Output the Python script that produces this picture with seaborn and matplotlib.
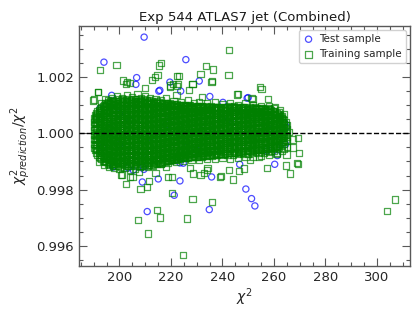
import numpy as np
import matplotlib.pyplot as plt
import matplotlib.ticker as mticker
import seaborn as sns

TITLE = "Exp 544 ATLAS7 jet (Combined)"

# ------------------------------------------------------------------
# Data
# ------------------------------------------------------------------

# dense core of the training sample: one chi2 column per entry, with the
# deviations of chi2_pred/chi2 from 1 in units of 1e-5
core_chi2 = list(range(190, 266))
core_dev = [
    [-52, -37, -21, -6, 10, 24, 39, 53],
    [-68, -54, -38, -25, -9, 5, 19, 35, 50, 63, 71],
    [-83, -69, -55, -40, -26, -11, 3, 17, 32, 46, 61, 74, 84],
    [-91, -76, -62, -47, -31, -18, -4, 11, 25, 40, 56, 69, 81, 92],
    [-97, -85, -70, -54, -41, -27, -12, 2, 16, 31, 45, 60, 73, 87, 99],
    [-102, -88, -74, -59, -45, -30, -16, -1, 13, 28, 42, 57, 71, 85, 97, 104],
    [-105, -93, -79, -64, -50, -35, -21, -6, 8, 23, 37, 52, 66, 80, 94, 107],
    [-108, -95, -81, -67, -52, -38, -23, -9, 6, 20, 35, 49, 64, 78, 92, 104, 111],
    [-110, -97, -83, -69, -56, -41, -27, -12, 2, 16, 31, 45, 60, 74, 88, 101, 114],
    [-106, -91, -77, -62, -48, -33, -19, -5, 10, 24, 39, 53, 68, 82, 96, 109],
    [-109, -96, -82, -67, -53, -39, -24, -10, 5, 19, 34, 48, 63, 77, 91, 104, 115],
    [-104, -89, -75, -60, -46, -31, -17, -2, 12, 27, 41, 56, 70, 85, 99, 112],
    [-110, -98, -84, -70, -55, -41, -26, -12, 3, 17, 32, 46, 61, 75, 89, 102, 113],
    [-107, -92, -78, -63, -49, -34, -20, -5, 9, 24, 38, 53, 67, 82, 96, 110],
    [-110, -99, -85, -71, -57, -42, -28, -13, 1, 16, 30, 45, 59, 74, 88, 101, 114],
    [-105, -90, -76, -61, -47, -32, -18, -3, 11, 26, 40, 55, 69, 84, 98, 111],
    [-109, -96, -81, -67, -53, -38, -24, -9, 5, 20, 34, 49, 63, 78, 92, 105, 115],
    [-103, -88, -74, -59, -45, -30, -16, -1, 13, 28, 42, 57, 71, 86, 100, 112],
    [-110, -97, -83, -68, -54, -40, -25, -11, 4, 18, 33, 47, 62, 76, 90, 103, 114],
    [-106, -92, -77, -63, -48, -34, -19, -5, 10, 24, 39, 53, 68, 82, 97, 110],
    [-108, -94, -80, -65, -51, -37, -22, -8, 7, 21, 36, 50, 65, 79, 93, 106, 115],
    [-104, -90, -75, -61, -46, -32, -17, -3, 12, 26, 41, 55, 70, 84, 98, 110],
    [-106, -93, -79, -64, -50, -36, -21, -7, 8, 22, 37, 51, 66, 80, 94, 107],
    [-101, -87, -72, -58, -43, -29, -14, 0, 15, 29, 44, 58, 73, 87, 100, 112],
    [-105, -91, -77, -62, -48, -33, -19, -4, 10, 25, 39, 54, 68, 83, 96, 108],
    [-99, -85, -71, -56, -42, -27, -13, 2, 16, 31, 45, 60, 74, 88, 101],
    [-100, -88, -74, -59, -45, -30, -16, -1, 13, 28, 42, 57, 71, 85, 97, 108],
    [-96, -82, -67, -53, -38, -24, -9, 5, 20, 34, 49, 63, 78, 92, 104],
    [-99, -86, -71, -57, -42, -28, -13, 1, 16, 30, 45, 59, 74, 88, 100, 107],
    [-93, -79, -64, -50, -35, -21, -6, 8, 23, 37, 52, 66, 81, 94, 103],
    [-94, -82, -68, -53, -39, -24, -10, 5, 19, 34, 48, 63, 77, 90, 101],
    [-90, -76, -61, -47, -32, -18, -3, 11, 26, 40, 55, 69, 83, 96, 104],
    [-93, -80, -65, -51, -36, -22, -7, 7, 22, 36, 51, 65, 79, 92],
    [-87, -73, -58, -44, -29, -15, 0, 14, 29, 43, 58, 72, 86, 98],
    [-88, -76, -62, -47, -33, -18, -4, 11, 25, 40, 54, 68, 82, 94, 100],
    [-84, -70, -55, -41, -26, -12, 3, 17, 32, 46, 61, 75, 88, 97],
    [-87, -74, -59, -45, -30, -16, -1, 13, 28, 42, 57, 71, 85, 96],
    [-82, -68, -53, -39, -24, -10, 5, 19, 34, 48, 63, 77, 90, 99],
    [-84, -71, -57, -42, -28, -13, 1, 16, 30, 45, 59, 73, 86, 95],
    [-79, -65, -50, -36, -21, -7, 8, 22, 37, 51, 66, 80, 92],
    [-83, -70, -55, -41, -26, -12, 3, 17, 32, 46, 61, 75, 88, 96],
    [-78, -64, -49, -35, -20, -6, 9, 23, 38, 52, 67, 81, 93],
    [-82, -68, -54, -39, -25, -10, 4, 19, 33, 48, 62, 76, 89, 96],
    [-77, -62, -48, -33, -19, -4, 10, 25, 39, 54, 68, 82, 94],
    [-80, -67, -52, -38, -23, -9, 6, 20, 35, 49, 64, 78, 90],
    [-75, -61, -46, -32, -17, -3, 12, 26, 41, 55, 70, 84, 95],
    [-79, -65, -51, -36, -22, -7, 7, 22, 36, 51, 65, 79, 91],
    [-74, -59, -45, -30, -16, -1, 13, 28, 42, 57, 71, 85, 93],
    [-78, -64, -49, -35, -20, -6, 9, 23, 38, 52, 67, 81, 92],
    [-73, -58, -44, -29, -15, 0, 14, 29, 43, 58, 72, 86],
    [-77, -63, -48, -34, -19, -5, 10, 24, 39, 53, 68, 82, 93],
    [-72, -57, -43, -28, -14, 1, 15, 30, 44, 59, 73, 87],
    [-76, -62, -47, -33, -18, -4, 11, 25, 40, 54, 69, 83, 92],
    [-71, -56, -42, -27, -13, 2, 16, 31, 45, 60, 74, 88],
    [-75, -61, -46, -32, -17, -3, 12, 26, 41, 55, 70, 84, 93],
    [-70, -55, -41, -26, -12, 3, 17, 32, 46, 61, 75, 89],
    [-74, -60, -45, -31, -16, -2, 13, 27, 42, 56, 71, 85, 92],
    [-69, -54, -40, -25, -11, 4, 18, 33, 47, 62, 76, 88],
    [-73, -59, -44, -30, -15, -1, 14, 28, 43, 57, 72, 86, 93],
    [-68, -53, -39, -24, -10, 5, 19, 34, 48, 63, 77, 89],
    [-72, -58, -43, -29, -14, 0, 15, 29, 44, 58, 73, 86],
    [-67, -52, -38, -23, -9, 6, 20, 35, 49, 64, 78, 90],
    [-71, -57, -42, -28, -13, 1, 16, 30, 45, 59, 74, 87],
    [-66, -51, -37, -22, -8, 7, 21, 36, 50, 65, 79, 89],
    [-70, -56, -41, -27, -12, 2, 17, 31, 46, 60, 75, 87],
    [-65, -50, -36, -21, -7, 8, 22, 37, 51, 66, 80, 90],
    [-69, -55, -40, -26, -11, 3, 18, 32, 47, 61, 76, 86],
    [-64, -49, -35, -20, -6, 9, 23, 38, 52, 67, 81],
    [-66, -53, -39, -24, -10, 4, 19, 33, 48, 62, 77, 85],
    [-61, -47, -32, -18, -3, 11, 26, 40, 55, 69, 82],
    [-64, -51, -37, -22, -8, 6, 21, 35, 50, 64, 78],
    [-57, -43, -28, -14, 1, 15, 30, 44, 59, 72],
    [-52, -38, -24, -9, 5, 20, 34, 49, 63, 74],
    [-46, -32, -17, -3, 12, 26, 41, 55, 62],
    [-38, -24, -10, 5, 19, 33, 46],
    [-28, -14, 1, 15, 29],
]

# second pass over the core, between the columns above
core2_chi2 = [c + 0.5 for c in range(190, 265)]
core2_dev = [
    [-60, -42, -24, -5, 14, 33, 50, 64],
    [-77, -58, -40, -21, -3, 16, 34, 53, 70, 80],
    [-88, -71, -52, -34, -15, 3, 22, 40, 59, 77, 90],
    [-97, -80, -61, -43, -24, -6, 13, 31, 50, 68, 86, 98],
    [-103, -86, -67, -49, -30, -12, 7, 25, 44, 62, 81, 97, 106],
    [-107, -91, -73, -54, -36, -17, 1, 20, 38, 57, 75, 94, 110],
    [-112, -95, -77, -58, -40, -21, -3, 16, 34, 53, 71, 90, 106, 115],
    [-114, -99, -81, -62, -44, -25, -7, 12, 30, 49, 67, 86, 104, 117],
    [-116, -103, -85, -66, -48, -29, -11, 8, 26, 45, 63, 82, 100, 116],
    [-115, -97, -79, -60, -42, -23, -5, 14, 32, 51, 69, 88, 106, 120],
    [-118, -101, -83, -64, -46, -27, -9, 10, 28, 47, 65, 84, 102, 119],
    [-113, -95, -77, -58, -40, -21, -3, 16, 34, 53, 71, 90, 108, 121],
    [-117, -99, -81, -62, -44, -25, -7, 12, 30, 49, 67, 86, 104, 118],
    [-114, -96, -78, -59, -41, -22, -4, 15, 33, 52, 70, 89, 107, 122],
    [-116, -100, -82, -63, -45, -26, -8, 11, 29, 48, 66, 85, 103, 119],
    [-112, -94, -76, -57, -39, -20, -2, 17, 35, 54, 72, 91, 109, 121],
    [-117, -98, -80, -61, -43, -24, -6, 13, 31, 50, 68, 87, 105, 120],
    [-114, -95, -77, -58, -40, -21, -3, 16, 34, 53, 71, 90, 108, 122],
    [-116, -99, -81, -62, -44, -25, -7, 12, 30, 49, 67, 86, 104, 118],
    [-113, -96, -78, -59, -41, -22, -4, 15, 33, 52, 70, 89, 107, 121],
    [-115, -100, -82, -63, -45, -26, -8, 11, 29, 48, 66, 85, 103, 117],
    [-111, -94, -76, -57, -39, -20, -2, 17, 35, 54, 72, 91, 108, 118],
    [-113, -97, -79, -60, -42, -23, -5, 14, 32, 51, 69, 88, 104, 116],
    [-108, -92, -74, -55, -37, -18, 0, 19, 37, 56, 74, 93, 109],
    [-110, -95, -77, -58, -40, -21, -3, 16, 34, 53, 71, 90, 106, 114],
    [-106, -89, -71, -52, -34, -15, 3, 22, 40, 59, 77, 95, 110],
    [-104, -92, -74, -55, -37, -18, 0, 19, 37, 56, 74, 92, 107],
    [-102, -86, -68, -49, -31, -12, 6, 25, 43, 62, 80, 97, 109],
    [-99, -89, -71, -52, -34, -15, 3, 22, 40, 59, 77, 94, 106],
    [-98, -83, -65, -46, -28, -9, 9, 28, 46, 65, 83, 99, 108],
    [-96, -86, -68, -49, -31, -12, 6, 25, 43, 62, 80, 96, 105],
    [-95, -80, -62, -43, -25, -6, 12, 31, 49, 68, 86, 101],
    [-92, -83, -65, -46, -28, -9, 9, 28, 46, 65, 83, 98, 104],
    [-91, -77, -59, -40, -22, -3, 15, 34, 52, 71, 89, 102],
    [-89, -80, -62, -43, -25, -6, 12, 31, 49, 68, 86, 99],
    [-88, -74, -56, -37, -19, 0, 18, 37, 55, 74, 91, 101],
    [-86, -77, -59, -40, -22, -3, 15, 34, 52, 71, 88, 98],
    [-85, -71, -53, -34, -16, 3, 21, 40, 58, 77, 93, 100],
    [-84, -74, -56, -37, -19, 0, 18, 37, 55, 74, 90, 98],
    [-83, -68, -50, -31, -13, 6, 24, 43, 61, 80, 95],
    [-82, -71, -53, -34, -16, 3, 21, 40, 58, 77, 92, 98],
    [-81, -65, -47, -28, -10, 9, 27, 46, 64, 83, 96],
    [-80, -68, -50, -31, -13, 6, 24, 43, 61, 80, 94],
    [-79, -62, -44, -25, -7, 12, 30, 49, 67, 85, 96],
    [-78, -65, -47, -28, -10, 9, 27, 46, 64, 82, 94],
    [-77, -59, -41, -22, -4, 15, 33, 52, 70, 87, 96],
    [-76, -62, -44, -25, -7, 12, 30, 49, 67, 84, 94],
    [-75, -56, -38, -19, -1, 18, 36, 55, 73, 89, 95],
    [-74, -59, -41, -22, -4, 15, 33, 52, 70, 86, 94],
    [-73, -53, -35, -16, 2, 21, 39, 58, 76, 91],
    [-72, -56, -38, -19, -1, 18, 36, 55, 73, 88, 95],
    [-71, -50, -32, -13, 5, 24, 42, 61, 78, 92],
    [-70, -53, -35, -16, 2, 21, 39, 58, 75, 89, 96],
    [-69, -47, -29, -10, 8, 27, 45, 64, 80, 93],
    [-68, -50, -32, -13, 5, 24, 42, 61, 77, 90, 96],
    [-67, -44, -26, -7, 11, 30, 48, 67, 82, 94],
    [-66, -47, -29, -10, 8, 27, 45, 64, 79, 91],
    [-65, -41, -23, -4, 14, 33, 51, 70, 84, 95],
    [-64, -44, -26, -7, 11, 30, 48, 67, 81, 92],
    [-63, -38, -20, -1, 17, 36, 54, 72, 86],
    [-62, -41, -23, -4, 14, 33, 51, 69, 83, 93],
    [-61, -35, -17, 2, 20, 39, 57, 74, 88],
    [-60, -38, -20, -1, 17, 36, 54, 71, 85, 92],
    [-59, -32, -14, 5, 23, 42, 60, 76, 89],
    [-58, -35, -17, 2, 20, 39, 57, 73, 86],
    [-57, -29, -11, 8, 26, 45, 63, 78, 90],
    [-56, -32, -14, 5, 23, 42, 60, 75, 87],
    [-54, -26, -8, 11, 29, 48, 66, 80, 88],
    [-52, -29, -11, 8, 26, 45, 63, 77, 86],
    [-50, -23, -5, 14, 32, 51, 68, 80],
    [-47, -26, -8, 11, 29, 48, 65, 77],
    [-43, -20, -2, 17, 35, 54, 68],
    [-38, -17, 1, 20, 38, 55, 64],
    [-32, -14, 4, 22, 40, 52],
    [-24, -6, 12, 30, 40],
]

# training points along the ragged rim of the core
edge_chi2 = [
    193.0, 195.5, 197.0, 199.0, 201.0, 203.0, 205.0, 207.0, 208.5, 210.0,
    212.0, 214.0, 216.0, 218.0, 221.0, 224.0, 226.5, 229.0, 231.0, 234.0,
    237.0, 240.0, 243.0, 246.0, 249.0, 252.0, 255.0, 258.0, 260.5, 262.5,
    264.0,
    192.0, 194.0, 196.0, 198.0, 200.0, 202.0, 204.0, 206.0, 208.0, 211.0,
    213.0, 216.0, 219.0, 222.0, 225.0, 228.0, 231.0, 234.0, 237.0, 240.0,
    243.0, 246.0, 249.0, 252.0, 255.0, 258.0, 261.0, 263.0, 265.0,
]
edge_ratio = [
    1.00108, 1.00118, 1.00125, 1.00131, 1.00124, 1.00135, 1.00128, 1.00138, 1.00126, 1.00133,
    1.00127, 1.00122, 1.00118, 1.00124, 1.00115, 1.00112, 1.00118, 1.00108, 1.00112, 1.00106,
    1.00110, 1.00104, 1.00108, 1.00102, 1.00106, 1.00100, 1.00098, 1.00096, 1.00092, 1.00084,
    1.00070,
    0.99900, 0.99888, 0.99882, 0.99876, 0.99872, 0.99878, 0.99870, 0.99875, 0.99880, 0.99882,
    0.99885, 0.99890, 0.99894, 0.99898, 0.99902, 0.99905, 0.99904, 0.99908, 0.99910, 0.99912,
    0.99908, 0.99914, 0.99916, 0.99918, 0.99920, 0.99924, 0.99928, 0.99938, 0.99952,
]

# scattered training points outside the core
train_out_chi2 = [
    192.5, 198.9, 216.1, 215.3, 242.5, 233.7, 236.4, 231.5, 242.4, 235.9,
    214.8, 223.0, 222.4, 201.5, 202.6, 204.0, 212.6, 213.7, 228.4, 227.1,
    255.2, 245.6, 251.7, 257.7, 191.8, 190.1, 194.3, 219.5, 222.3, 232.2,
    260.0, 262.6, 263.2, 265.9, 269.4, 267.3, 267.3, 264.0, 269.8, 264.9,
    264.7, 269.2, 269.0, 257.2, 266.2, 307.0, 303.8, 200.6, 202.5, 205.1,
    208.2, 210.8, 211.5, 219.0, 220.3, 220.3, 228.4, 235.9, 214.6, 215.7,
    207.2, 226.3, 211.1, 224.8, 228.7, 239.4, 244.0, 248.4, 232.9, 234.2,
    214.0, 216.3, 220.7, 222.8, 228.4, 235.8, 245.9, 251.3, 254.6, 227.4,
    231.5, 233.9, 239.0, 242.6, 246.5, 250.7, 254.3, 261.3, 189.8, 191.8,
    190.9, 197.0, 200.9, 204.1, 207.7, 218.1, 220.3, 202.8, 209.9, 219.6,
    222.2,
]
train_out_ratio = [
    1.00224, 1.00244, 1.00250, 1.00241, 1.00295, 1.00238, 1.00227, 1.00212, 1.00206, 1.00185,
    1.00206, 1.00203, 1.00203, 1.00188, 1.00175, 1.00180, 1.00190, 1.00200, 1.00174, 1.00153,
    1.00159, 1.00138, 1.00122, 1.00121, 1.00147, 1.00120, 1.00123, 1.00166, 1.00168, 1.00129,
    1.00088, 1.00058, 1.00037, 1.00005, 0.99983, 0.99978, 0.99950, 0.99946, 0.99930, 0.99925,
    0.99886, 0.99892, 0.99894, 0.99878, 0.99857, 0.99765, 0.99723, 0.99853, 0.99821, 0.99845,
    0.99802, 0.99809, 0.99831, 0.99845, 0.99845, 0.99788, 0.99766, 0.99757, 0.99727, 0.99701,
    0.99691, 0.99697, 0.99644, 0.99567, 0.99857, 0.99847, 0.99836, 0.99875, 0.99859, 0.99876,
    0.99860, 0.99890, 1.00176, 1.00174, 1.00176, 1.00182, 1.00141, 1.00127, 1.00164, 0.99878,
    0.99851, 0.99869, 0.99845, 0.99869, 0.99866, 0.99904, 0.99918, 0.99930, 1.00117, 1.00147,
    1.00058, 0.99892, 0.99854, 0.99845, 0.99863, 0.99880, 0.99904, 1.00182, 1.00162, 1.00170,
    1.00135,
]

# test sample (mostly hidden under the training core, visible at its edges)
test_chi2 = [
    209.6, 194.0, 225.8, 231.0, 206.7, 219.6, 249.6, 235.1, 240.2, 197.0,
    215.3, 223.8, 264.2, 264.9, 264.5, 261.0, 257.2, 261.3, 260.3, 251.3,
    252.6, 249.1, 197.5, 208.9, 215.1, 223.5, 221.3, 234.9, 210.8, 246.7,
    224.8, 223.5, 235.8, 257.2, 250.0, 192.4, 193.5, 205.4, 209.5, 206.4,
    215.7, 197.6, 203.4, 209.2, 196.0, 200.0, 204.0, 212.0, 218.0, 226.0,
    232.0, 238.0, 244.0, 252.0, 258.0, 200.0, 210.0, 220.0, 230.0, 240.0,
]
test_ratio = [
    1.00342, 1.00253, 1.00262, 1.00186, 1.00198, 1.00182, 1.00125, 1.00131, 1.00110, 1.00135,
    1.00150, 1.00150, 1.00037, 1.00022, 0.99961, 0.99951, 0.99946, 0.99921, 0.99890, 0.99768,
    0.99742, 0.99802, 0.99880, 0.99827, 0.99838, 0.99831, 0.99780, 0.99729, 0.99722, 0.99890,
    0.99894, 0.99895, 0.99845, 0.99937, 1.00127, 1.00088, 0.99951, 0.99869, 0.99872, 1.00174,
    1.00153, 0.99884, 0.99877, 0.99880, 1.00020, 0.99960, 1.00045, 0.99985, 1.00030, 0.99970,
    1.00010, 0.99955, 1.00040, 0.99990, 1.00015, 1.00070, 0.99930, 1.00060, 0.99940, 1.00050,
]

# ------------------------------------------------------------------
# Build the training sample
# ------------------------------------------------------------------
def expand(cols, devs):
    xs = [c for c, d in zip(cols, devs) for _ in d]
    ys = [1 + v * 1e-5 for d in devs for v in d]
    return xs, ys


c1x, c1y = expand(core_chi2, core_dev)
c2x, c2y = expand(core2_chi2, core2_dev)
train_chi2 = c1x + c2x + edge_chi2 + train_out_chi2
train_ratio = c1y + c2y + edge_ratio + train_out_ratio

sns.set_style("ticks")
plt.rcParams["font.family"] = ["DejaVu Sans"]
plt.rcParams["mathtext.fontset"] = "dejavusans"

fig = plt.figure(figsize=(4.2, 3.15), dpi=100)
ax = fig.add_axes([0.188, 0.156, 0.788, 0.761])

sns.scatterplot(
    x=test_chi2, y=test_ratio, ax=ax, marker="o", s=20,
    facecolor="none", edgecolor="#0000ff", linewidth=0.9, alpha=0.7,
    label="Test sample",
)
sns.scatterplot(
    x=train_chi2, y=train_ratio, ax=ax, marker="s", s=20,
    facecolor="none", edgecolor="#008000", linewidth=0.9, alpha=0.7,
    label="Training sample",
)
ax.axhline(1.0, color="black", linestyle="--", linewidth=1.0, zorder=5)

ax.set_xlim(184.3, 312.8)
ax.set_ylim(0.99529, 1.00381)
ax.xaxis.set_major_locator(mticker.MultipleLocator(20))
ax.xaxis.set_minor_locator(mticker.MultipleLocator(5))
ax.yaxis.set_major_locator(mticker.MultipleLocator(0.002))
ax.yaxis.set_minor_locator(mticker.MultipleLocator(0.0005))
ax.yaxis.set_major_formatter(mticker.FormatStrFormatter("%.3f"))

ax.tick_params(which="both", direction="in", top=True, right=True,
               color="0.35", labelcolor="0.15", labelsize=9.5, width=0.8)
ax.tick_params(which="major", length=6)
ax.tick_params(which="minor", length=3.2)
for sp in ax.spines.values():
    sp.set_color("0.35")
    sp.set_linewidth(1.0)

ax.set_xlabel(r"$\chi^2$", fontsize=10, color="0.15", labelpad=2)
ax.set_ylabel(r"$\chi^2_{prediction}/\chi^2$", fontsize=10, color="0.15", labelpad=2)
ax.set_title(TITLE, fontsize=9.5, color="0.1", pad=4)

ax.legend(loc="upper right", fontsize=7.5, frameon=True, fancybox=True,
          edgecolor="0.8", framealpha=0.9, borderpad=0.4, handletextpad=0.5,
          handlelength=1.1, borderaxespad=0.35)

fig.savefig("out.png", dpi=100)
